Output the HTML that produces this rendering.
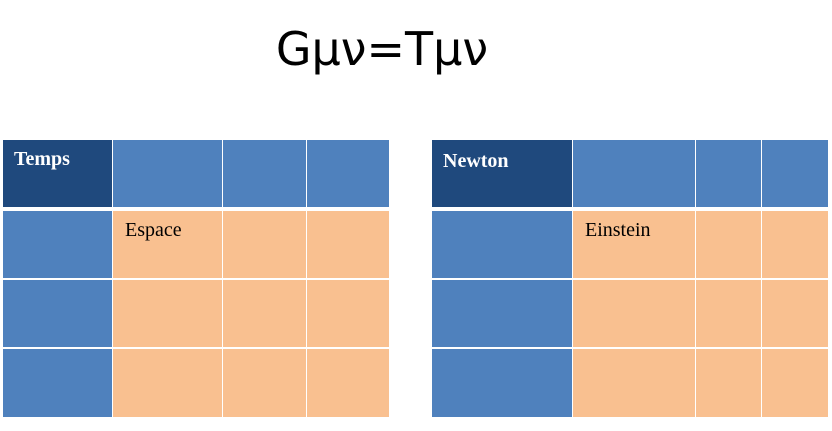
<!DOCTYPE html><html><head><style>
body{margin:0;width:832px;height:431px;background:#fff;position:relative;overflow:hidden;font-family:"Liberation Serif",serif}
.c{position:absolute}
.d{background:#1f497d}.b{background:#4f81bd}.o{background:#f9c090}
.t{color:#fff;font-weight:bold;font-size:20px;padding:8px 0 0 11px;box-sizing:border-box}
.e{color:#000;font-size:20px;padding:8px 0 0 12px;box-sizing:border-box}
h1{position:absolute;left:0;width:764px;text-align:center;top:22px;margin:0;font:normal 46px "DejaVu Sans","Liberation Sans",sans-serif;color:#000}
</style></head><body>
<h1>Gμν=Tμν</h1>
<div id="L"></div>
<script>
function tbl(cols){
 var rs=[[140,207],[211,278],[280,347],[349,417]];
 var h='';
 for(var r=0;r<4;r++)for(var c=0;c<4;c++){
  var x0=cols[c]+(c?1:0),x1=cols[c+1];
  var cls=r==0?(c==0?'d':'b'):(c==0?'b':'o');
  h+='<div class="c '+cls+'" style="left:'+x0+'px;top:'+rs[r][0]+'px;width:'+(x1-x0)+'px;height:'+(rs[r][1]-rs[r][0])+'px"></div>';
 }
 return h;
}
var h=tbl([3,112,222,306,389])+tbl([432,572,695,761,828]);
h+='<div class="c t" style="left:3px;top:140px">Temps</div>';
h+='<div class="c e" style="left:113px;top:211px">Espace</div>';
h+='<div class="c t" style="left:432px;top:142px">Newton</div>';
h+='<div class="c e" style="left:573px;top:211px">Einstein</div>';
document.getElementById('L').innerHTML=h;
</script>
</body></html>
